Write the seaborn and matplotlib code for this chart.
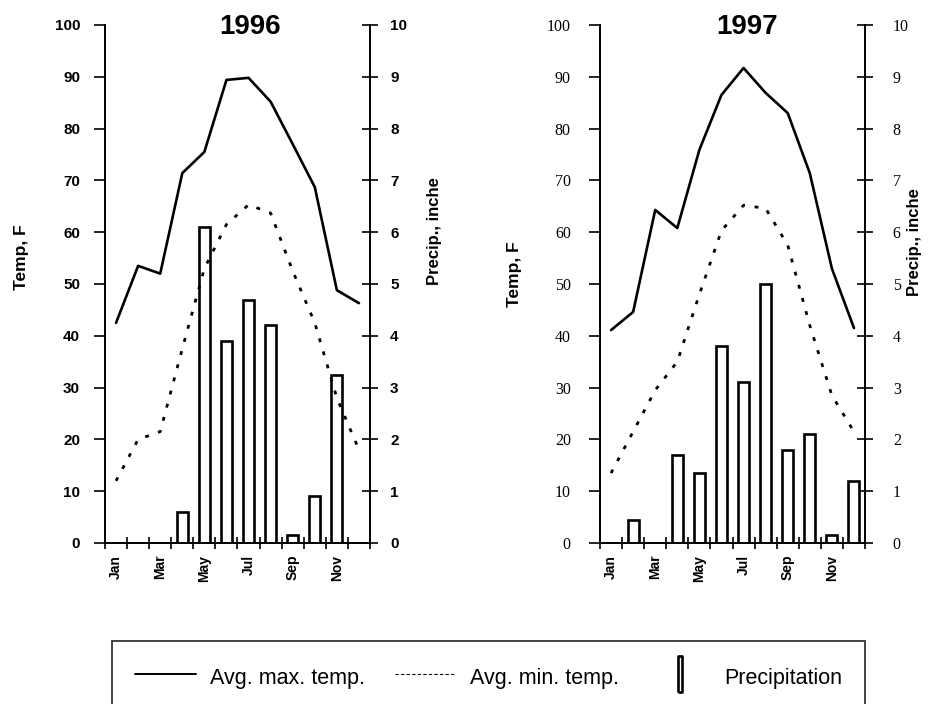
import numpy as np
import matplotlib
matplotlib.use("Agg")
import matplotlib.pyplot as plt
from matplotlib.lines import Line2D
from matplotlib.path import Path
import seaborn as sns

# Monthly climate data
months = ['Jan', 'Feb', 'Mar', 'Apr', 'May', 'Jun',
          'Jul', 'Aug', 'Sep', 'Oct', 'Nov', 'Dec']

max_1996 = [42.5, 53.5, 52.0, 71.4, 75.5, 89.4, 89.8, 85.2, 77.0, 68.7, 48.8, 46.3]
min_1996 = [12.0, 20.0, 21.5, 37.5, 53.0, 61.5, 65.3, 63.7, 52.5, 42.5, 28.0, 18.0]
precip_1996 = [np.nan, np.nan, np.nan, 0.6, 6.1, 3.9, 4.7, 4.2, 0.15, 0.9, 3.25, 0.0]

max_1997 = [41.1, 44.6, 64.3, 60.8, 75.9, 86.5, 91.7, 86.9, 83.0, 71.4, 53.0, 41.5]
min_1997 = [13.5, 21.5, 29.5, 35.0, 48.0, 60.3, 65.2, 64.6, 57.5, 42.0, 28.5, 21.5]
precip_1997 = [np.nan, 0.45, np.nan, 1.7, 1.35, 3.8, 3.1, 5.0, 1.8, 2.1, 0.15, 1.2]

sns.set_style("ticks")
plt.rcParams['font.family'] = ['Liberation Sans', 'DejaVu Sans']
plt.rcParams.update({'text.color': 'black', 'axes.labelcolor': 'black',
                     'xtick.color': 'black', 'ytick.color': 'black',
                     'axes.edgecolor': 'black'})


def draw_panel(ax, year, tmax, tmin, precip, tick_font, title_x,
               left_lab, right_lab, left_pad, right_pad):
    ax2 = ax.twinx()
    sns.barplot(x=months, y=precip, ax=ax2, color='white', edgecolor='black',
                linewidth=1.9, width=0.5, saturation=1, errorbar=None)
    x = np.arange(len(months))
    sns.lineplot(x=x, y=tmax, ax=ax, color='black', linewidth=1.9)
    sns.lineplot(x=x, y=tmin, ax=ax, color='black', linewidth=2.0,
                 linestyle=(0, (1.4, 3.5)))

    # lines above the bars
    ax.set_zorder(ax2.get_zorder() + 1)
    ax.patch.set_visible(False)

    ax.set_ylim(0, 100)
    ax.set_yticks(range(0, 101, 10))
    ax2.set_ylim(0, 10)
    ax2.set_yticks(range(0, 11))
    ax.set_xlim(-0.5, 11.5)
    ax.set_xticks(range(0, 12, 2))
    ax.set_xticklabels(months[::2])
    ax.set_xticks(np.arange(-0.5, 12, 1), minor=True)
    ax.set_xlabel('')
    ax2.set_xlabel('')

    for s in ['top', 'right']:
        ax.spines[s].set_visible(False)
    for s in ['top', 'left', 'bottom']:
        ax2.spines[s].set_visible(False)
    ax.spines['left'].set_linewidth(1.4)
    ax.spines['bottom'].set_linewidth(1.4)
    ax2.spines['right'].set_linewidth(1.4)

    ax.tick_params(axis='y', direction='out', length=8, width=1.2,
                   pad=left_pad, labelsize=11)
    ax.tick_params(axis='x', which='major', length=0, pad=8.5,
                   labelsize=10, labelrotation=90)
    ax.tick_params(axis='x', which='minor', direction='inout', length=8, width=1.2)
    ax2.tick_params(axis='y', direction='inout', length=12, width=1.2,
                    pad=right_pad, labelsize=11)

    for lbl in ax.get_xticklabels():
        lbl.set_fontweight('bold')
    for lbl in ax.get_yticklabels() + ax2.get_yticklabels():
        if tick_font == 'serif':
            lbl.set_fontfamily(['Liberation Serif', 'DejaVu Serif'])
            lbl.set_fontsize(11.5)
        else:
            lbl.set_fontweight('bold')

    ax.set_ylabel('Temp, F', fontsize=12.5, fontweight='bold')
    ax.yaxis.set_label_coords(*left_lab)
    ax2.set_ylabel('Precip., inche', fontsize=12, fontweight='bold')
    ax2.yaxis.set_label_coords(*right_lab)

    ax.text(title_x, 0.983, year, transform=ax.transAxes, ha='center',
            va='baseline', fontsize=20, fontweight='bold')


fig = plt.figure(figsize=(9.4, 7.04), dpi=100)
ax_a = fig.add_axes([105 / 940, 161 / 704, 265 / 940, 518 / 704])
ax_b = fig.add_axes([600 / 940, 161 / 704, 265 / 940, 518 / 704])

draw_panel(ax_a, '1996', max_1996, min_1996, precip_1996, 'sans', 0.547,
           (-0.287, 0.552), (1.215, 0.602), 10, 8.5)
draw_panel(ax_b, '1997', max_1997, min_1997, precip_1997, 'serif', 0.555,
           (-0.294, 0.52), (1.16, 0.581), 13, 14)

# legend along the bottom
bar_marker = Path([(-0.125, -1), (0.125, -1), (0.125, 1), (-0.125, 1), (-0.125, -1)])
handles = [
    Line2D([], [], color='black', linewidth=1.4),
    Line2D([], [], color='black', linewidth=0.8, linestyle=(0, (3, 2))),
    Line2D([], [], marker=bar_marker, markersize=26, markerfacecolor='white',
           markeredgecolor='black', markeredgewidth=1.9, linestyle='None'),
]
labels = ['Avg. max. temp.', 'Avg. min. temp.', 'Precipitation']
leg = fig.legend(handles, labels, loc='upper left',
                 bbox_to_anchor=(112 / 940, 1 - 641 / 704),
                 ncol=3, frameon=True, fancybox=False,
                 edgecolor='black', fontsize=15.5, borderpad=1.05,
                 handlelength=2.84, handleheight=1.5, handletextpad=0.65,
                 columnspacing=1.4, borderaxespad=0)
leg.get_frame().set_linewidth(1.3)

fig.savefig('out.png', dpi=100, facecolor='white')
